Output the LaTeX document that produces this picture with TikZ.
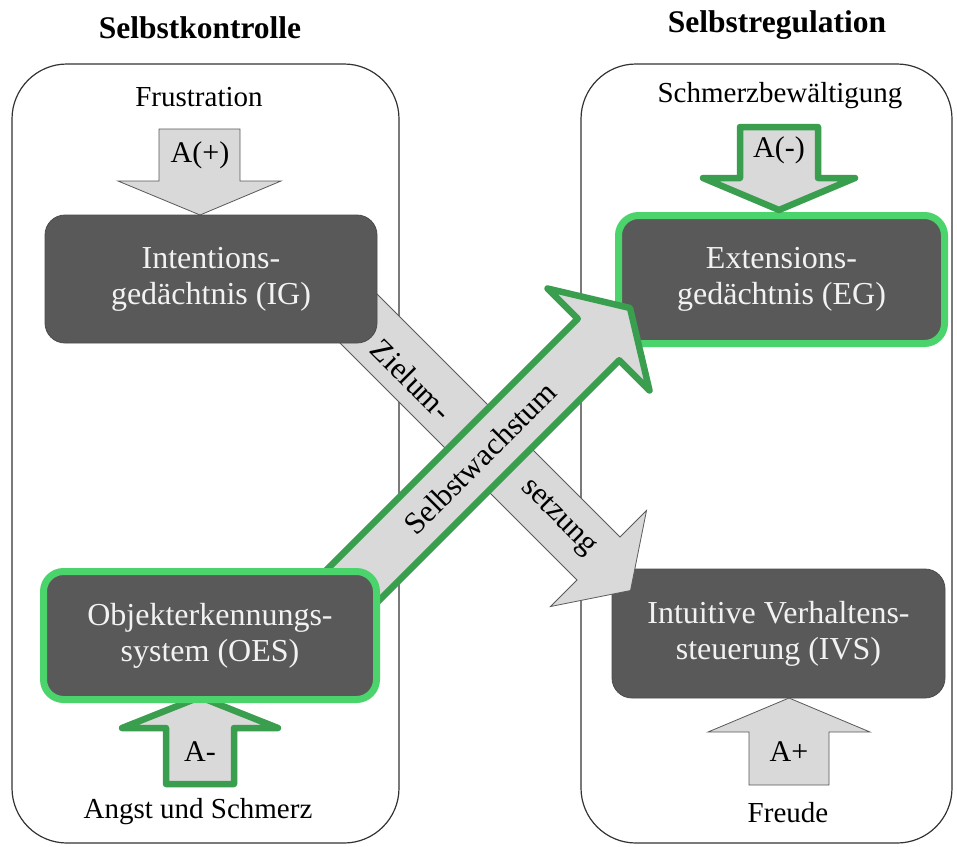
\documentclass[tikz,border=0pt]{standalone}
\usepackage{fontspec}
\setmainfont{Liberation Serif}
\definecolor{boxgray}{HTML}{595959}
\definecolor{arrowgray}{HTML}{D9D9D9}
\definecolor{darkgreen}{HTML}{3A9E4F}
\definecolor{lightgreen}{HTML}{4CD46C}
\definecolor{boxtext}{HTML}{F2F2F2}
\begin{document}
\begin{tikzpicture}[x=1pt,y=-1pt,
  container/.style={draw=black!80, line width=1.2pt, rounded corners=55pt, inner sep=0pt},
  darkbox/.style={fill=boxgray, draw=black!70, line width=0.8pt, rounded corners=20pt,
    text=boxtext, font=\fontsize{32}{36}\selectfont, align=center, inner sep=0pt},
  greenbox/.style={darkbox, draw=lightgreen, line width=7pt},
  grayarrow/.style={fill=arrowgray, draw=black!65, line width=0.8pt},
  greenarrow/.style={fill=arrowgray, draw=darkgreen, line width=6.5pt, line join=round},
  lbl/.style={font=\fontsize{29}{34}\selectfont, inner sep=0pt},
  albl/.style={font=\fontsize{30}{34}\selectfont, inner sep=0pt},
  ttl/.style={font=\bfseries\fontsize{31.5}{36}\selectfont, inner sep=0pt},
  rlbl/.style={font=\fontsize{31}{34}\selectfont, inner sep=0pt}]
\useasboundingbox (0,0) rectangle (957,846);
\fill[white] (0,0) rectangle (957,846);

% containers
\node[container, minimum width=387pt, minimum height=779pt] (leftc) at (205.5,453.5) {};
\node[container, minimum width=371pt, minimum height=779pt] (rightc) at (766.5,453.5) {};

% titles
\node[ttl] (t1) at (200,28) {Selbstkontrolle};
\node[ttl] (t2) at (777,25) {Selbstregulation};

% right boxes (below arrows)
\node[darkbox, minimum width=333pt, minimum height=129pt] (ivs) at (778.5,633.5)
  {Intuitive Verhaltens-\\steuerung (IVS)};
\node[greenbox, minimum width=326pt, minimum height=128pt] (eg) at (781.5,279.5)
  {Extensions-\\gedächtnis (EG)};

% small arrows
\draw[grayarrow] (159,129) -- (240,129) -- (240,181) -- (281,181) -- (200,215) -- (118,181) -- (159,181) -- cycle;
\node[albl] (ap) at (200,155) {A(+)};
\draw[greenarrow] (740,127) -- (818,127) -- (818,178) -- (855,178) -- (779,210) -- (703,178) -- (740,178) -- cycle;
\node[albl] (am) at (779,150) {A(-)};
\draw[greenarrow] (166,784) -- (234,784) -- (234,728) -- (278,728) -- (200,697) -- (122,728) -- (166,728) -- cycle;
\node[albl] (amm) at (200,752) {A-};
\draw[grayarrow] (749,785) -- (829,785) -- (829,732) -- (870,732) -- (789,698) -- (708,732) -- (749,732) -- cycle;
\node[albl] (app) at (789,752) {A+};

% Zielumsetzung arrow
\draw[grayarrow] (341.5,258.5) -- (620,537) -- (646.5,510.5) -- (630.5,590.5) -- (550.5,606.5) -- (577,580) -- (298.5,301.5) -- cycle;
\node[rlbl, rotate=-45] (z1) at (411.5,379.5) {Zielum-};
\node[rlbl, rotate=-45] (z2) at (558,518) {setzung};

% IG box
\node[darkbox, minimum width=332pt, minimum height=128pt] (ig) at (211,279)
  {Intentions-\\gedächtnis (IG)};

% Selbstwachstum arrow
\draw[greenarrow] (298.25,598.25) -- (577.75,318.75) -- (547.5,288.5) -- (630,308) -- (649.5,390.5) -- (619.25,360.25) -- (339.75,639.75) -- cycle;
\node[rlbl, rotate=45] (sw) at (480,458) {Selbstwachstum};

% OES box
\node[greenbox, minimum width=333pt, minimum height=128pt] (oes) at (210,635.5)
  {Objekterkennungs-\\system (OES)};

% labels
\node[lbl] (fr) at (199,97) {Frustration};
\node[lbl] (sb) at (780,96) {Schmerzbewältigung};
\node[lbl] (as) at (198,812) {Angst und Schmerz};
\node[lbl] (fd) at (788,813) {Freude};
\end{tikzpicture}
\end{document}
